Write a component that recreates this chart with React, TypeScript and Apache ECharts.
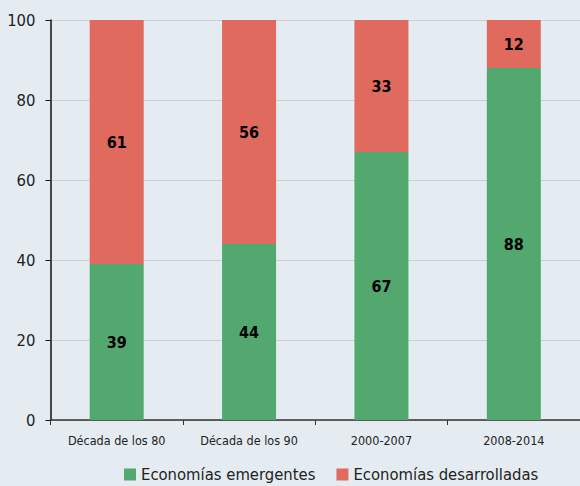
import React, { useEffect, useRef } from "react";
import * as echarts from "echarts";

const categories = ["Década de los 80", "Década de los 90", "2000-2007", "2008-2014"];
const emergentes = [39, 44, 67, 88];
const desarrolladas = [61, 56, 33, 12];
const seriesNames = ["Economías emergentes", "Economías desarrolladas"];

const FONT = "'DejaVu Sans Condensed', 'Liberation Sans', Arial, sans-serif";

export default function App() {
  const ref = useRef<HTMLDivElement>(null);
  useEffect(() => {
    const chart = echarts.init(ref.current!, undefined, { renderer: "svg" });
    chart.setOption({
      animation: false,
      backgroundColor: "#e4ecf2",
      textStyle: { fontFamily: FONT },
      grid: { left: 50.5, top: 20, width: 535, height: 400, containLabel: false },
      legend: {
        top: 461,
        left: 119,
        itemWidth: 12,
        itemHeight: 12,
        itemGap: 21,
        icon: "rect",
        textStyle: { fontSize: 16.5, color: "#222", fontFamily: FONT },
        data: seriesNames,
      },
      xAxis: {
        type: "category",
        data: categories,
        axisLine: { lineStyle: { color: "#333", width: 1.5 } },
        axisTick: { show: true, length: 5, lineStyle: { color: "#333" } },
        axisLabel: { fontSize: 12.5, color: "#222", margin: 14, interval: 0, fontFamily: FONT },
      },
      yAxis: {
        type: "value",
        min: 0,
        max: 100,
        interval: 20,
        axisLine: { show: true, lineStyle: { color: "#111", width: 1.5 } },
        axisTick: { show: true, length: 5, lineStyle: { color: "#111" } },
        axisLabel: { fontSize: 16.5, color: "#222", margin: 15, fontFamily: FONT },
        splitLine: { lineStyle: { color: "#cfcfcf", width: 1 } },
      },
      series: [
        {
          name: seriesNames[0],
          type: "bar",
          stack: "total",
          data: emergentes,
          barWidth: 54,
          itemStyle: { color: "#53a870" },
          label: { show: true, position: "inside", fontSize: 16, fontWeight: "bold", color: "#000", fontFamily: FONT },
        },
        {
          name: seriesNames[1],
          type: "bar",
          stack: "total",
          data: desarrolladas,
          barWidth: 54,
          itemStyle: { color: "#e06a5e" },
          label: { show: true, position: "inside", fontSize: 16, fontWeight: "bold", color: "#000", fontFamily: FONT },
        },
      ],
    });
    return () => chart.dispose();
  }, []);
  return <div ref={ref} style={{ width: 580, height: 486, position: "absolute", left: 0, top: 0 }} />;
}
